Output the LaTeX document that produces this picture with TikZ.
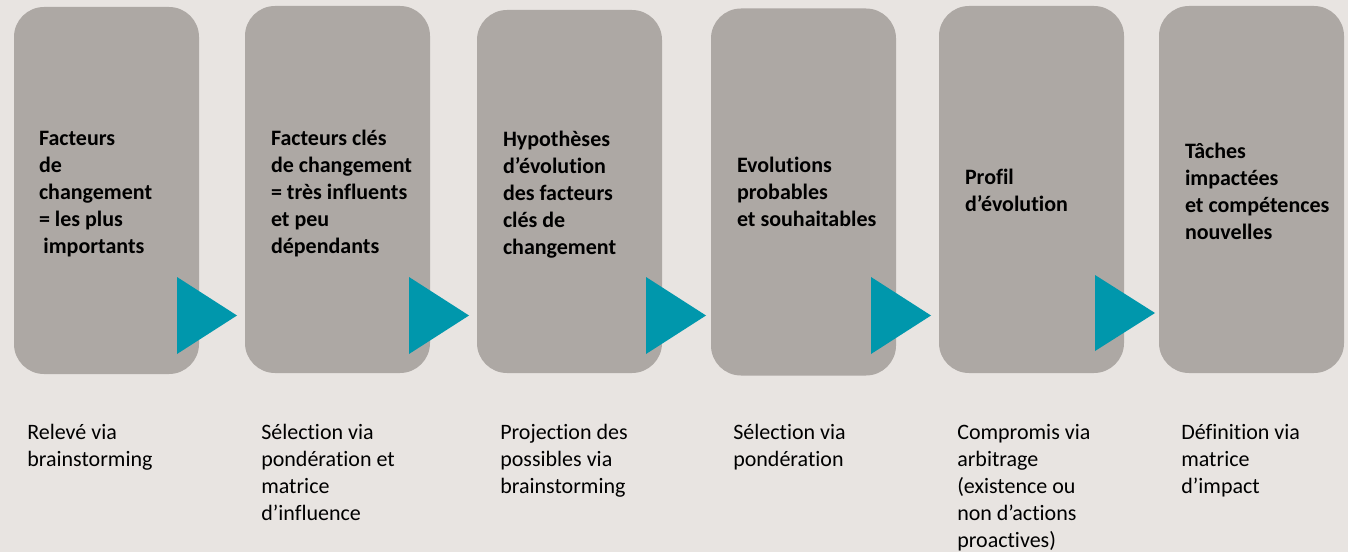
\documentclass[tikz,border=0pt]{standalone}
\usepackage{fontspec}
\setmainfont[Ligatures={NoCommon}]{Carlito}
\definecolor{bgc}{RGB}{232,228,225}
\definecolor{boxc}{RGB}{173,168,164}
\definecolor{tealc}{RGB}{0,151,172}
\begin{document}
\begin{tikzpicture}[x=0.75pt,y=-0.75pt,
  stepbox/.style={fill=boxc,draw=none,rounded corners=22.5pt,inner sep=0pt,
    minimum width=138.75pt,minimum height=275.25pt},
  boxtext/.style={anchor=west,inner sep=0pt,align=left,font=\bfseries\fontsize{16.5}{20.25}\selectfont,text=black},
  desc/.style={anchor=north west,inner sep=0pt,align=left,font=\fontsize{16.5}{20.25}\selectfont,text=black},
  tri/.style={fill=tealc,draw=none}]
\fill[bgc] (0,0) rectangle (1348,552);
\useasboundingbox (0,0) rectangle (1348,552);
% boxes
\node[stepbox] (b1) at (106.5,190.5) {};
\node[stepbox] (b2) at (337.5,189.5) {};
\node[stepbox,minimum height=272.25pt] (b3) at (569.5,191.5) {};
\node[stepbox] (b4) at (803.5,192) {};
\node[stepbox] (b5) at (1031.5,189.5) {};
\node[stepbox] (b6) at (1251.5,189.5) {};
% box texts
\node[boxtext] (t1) at ([xshift=18.75pt,yshift=-3pt]b1.west) {Facteurs\\de\\changement\\= les plus\\\hspace*{0.2em}importants};
\node[boxtext] (t2) at ([xshift=19.5pt,yshift=-3pt]b2.west) {Facteurs clés\\de changement\\= très influents\\et peu\\dépendants};
\node[boxtext] (t3) at ([xshift=19.5pt,yshift=-2pt]b3.west) {Hypothèses\\d’évolution\\des facteurs\\clés de\\changement};
\node[boxtext] (t4) at ([xshift=19.5pt]b4.west) {Evolutions\\probables\\et souhaitables};
\node[boxtext] (t5) at ([xshift=19.5pt,yshift=-0.75pt]b5.west) {Profil\\d’évolution};
\node[boxtext] (t6) at ([xshift=19.5pt,yshift=-1.5pt]b6.west) {Tâches\\impactées\\et compétences\\nouvelles};
% arrows (triangles)
\fill[tri] (177,277) -- (237,315.5) -- (177,354) -- cycle;
\fill[tri] (409,277) -- (469,315.5) -- (409,354) -- cycle;
\fill[tri] (646,277) -- (706,315.5) -- (646,354) -- cycle;
\fill[tri] (871,277) -- (931,315.5) -- (871,354) -- cycle;
\fill[tri] (1095,275) -- (1155,313) -- (1095,351) -- cycle;
% descriptions
\node[desc] (d1) at (27,424) {Relevé via\\brainstorming};
\node[desc] (d2) at (261,424) {Sélection via\\pondération et\\matrice\\d’influence};
\node[desc] (d3) at (500,424) {Projection des\\possibles via\\brainstorming};
\node[desc] (d4) at (733,424) {Sélection via\\pondération};
\node[desc] (d5) at (957,424) {Compromis via\\arbitrage\\(existence ou\\non d’actions\\proactives)};
\node[desc] (d6) at (1181,424) {Définition via\\matrice\\d’impact};
\end{tikzpicture}
\end{document}
